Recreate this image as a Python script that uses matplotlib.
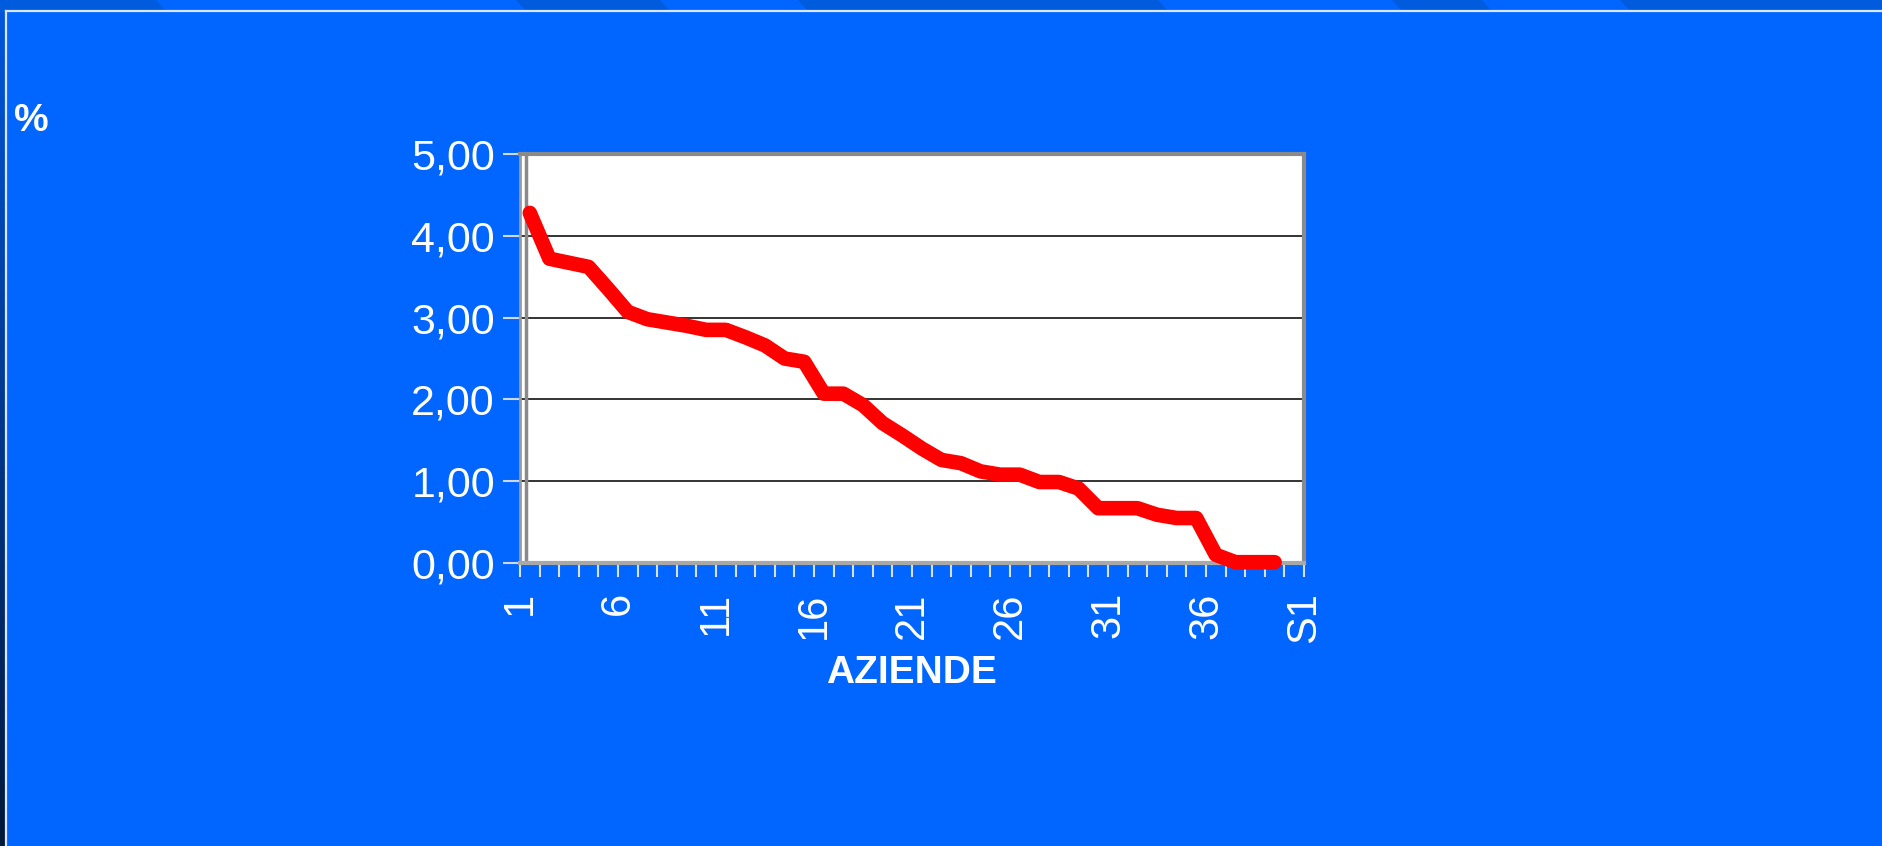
import numpy as np
import matplotlib.pyplot as plt
from matplotlib.patches import Rectangle, Polygon
from matplotlib.lines import Line2D

# quota percentuale per azienda (ordinata)
aziende = list(range(1, 40))
valori = [4.28, 3.72, 3.67, 3.62, 3.35, 3.07, 2.98, 2.94, 2.90, 2.85,
          2.85, 2.76, 2.66, 2.50, 2.46, 2.07, 2.07, 1.93, 1.71, 1.56,
          1.40, 1.26, 1.22, 1.12, 1.08, 1.08, 0.99, 0.99, 0.91, 0.67,
          0.67, 0.67, 0.59, 0.55, 0.55, 0.10, 0.01, 0.01, 0.01]
n_cat = 40
x_labels = ["1", "6", "11", "16", "21", "26", "31", "36", "S1"]
y_ticks = [0, 1, 2, 3, 4, 5]
y_labels = ["0,00", "1,00", "2,00", "3,00", "4,00", "5,00"]

W, H = 1883, 846
plt.rcParams['font.family'] = ['Liberation Sans', 'DejaVu Sans']
fig = plt.figure(figsize=(W / 100, H / 100), dpi=100, facecolor='#0066FF')


def fx(px):
    return px / W


def fy(py):
    return 1 - py / H


# slide decoration: top band with slanted stripes, frame lines, left strip
fig.add_artist(Rectangle((0, fy(11)), 1, fy(0) - fy(11), transform=fig.transFigure,
                         color='#005BDD', lw=0))
for a, b in [(156, 516), (660, 798), (1158, 1392), (1482, 1620)]:
    fig.add_artist(Polygon([(fx(a), fy(0)), (fx(b), fy(0)), (fx(b + 10), fy(11)), (fx(a + 10), fy(11))],
                           closed=True, transform=fig.transFigure, color='#0066FF', lw=0))
fig.add_artist(Line2D([fx(6), 1], [fy(11.5), fy(11.5)], transform=fig.transFigure,
                      color='#D8E6FF', lw=1.6))
grad = fig.add_axes([0, 0, fx(6), fy(11)])
grad.imshow(np.linspace(0, 1, 200).reshape(-1, 1), aspect='auto',
            cmap=plt.matplotlib.colors.LinearSegmentedColormap.from_list('g', ['#0056DC', '#00183A']))
grad.axis('off')
fig.add_artist(Line2D([fx(6.5), fx(6.5)], [0, fy(11.5)], transform=fig.transFigure,
                      color='#D8E6FF', lw=1.6))

fig.text(fx(14), fy(103), "%", color='white', fontsize=28, fontweight='bold',
         ha='left', va='top')

ax = fig.add_axes([fx(520), fy(563), fx(784), (563 - 154) / H])
ax.set_facecolor('white')
ax.plot(aziende, valori, color='#FF0000', lw=10.5, solid_capstyle='round',
        solid_joinstyle='round', clip_on=False, zorder=5)
ax.set_xlim(0.5, n_cat + 0.5)
ax.set_ylim(0, 5)

ax.set_yticks(y_ticks)
ax.set_yticklabels(y_labels)
for y in y_ticks[1:-1]:
    ax.axhline(y, color='#111111', lw=1.2, zorder=1)

bounds = np.arange(0.5, n_cat + 1, 1)
ax.set_xticks(bounds)
lab = [""] * len(bounds)
for i, t in enumerate(x_labels):
    lab[i * 5] = t
ax.set_xticklabels(lab, rotation=90)

ax.tick_params(axis='y', direction='out', length=12, width=1.5, color='#D0D8E8',
               labelcolor='white', labelsize=31, pad=6)
ax.tick_params(axis='x', direction='out', length=10, width=1.5, color='#D8E0F0',
               labelcolor='white', labelsize=30, pad=11)

for s in ['top', 'right']:
    ax.spines[s].set_color('#8A8A8A')
    ax.spines[s].set_linewidth(3)
ax.spines['left'].set_color('#9A9A9A')
ax.spines['left'].set_linewidth(2)
ax.spines['bottom'].set_color('#A8A8A8')
ax.spines['bottom'].set_linewidth(3)
ax.axvline(0.5 + 6.5 / 19.6, color='#8A8A8A', lw=2.5, zorder=2)

fig.text(fx(911), fy(673), "AZIENDE", color='white', fontsize=28, fontweight='bold',
         ha='center', va='center')

fig.savefig('out.png', dpi=100, facecolor=fig.get_facecolor())
